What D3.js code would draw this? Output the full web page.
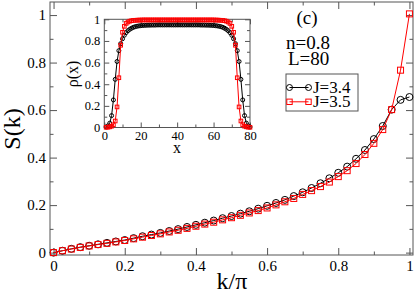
<!DOCTYPE html>
<html>
<head>
<meta charset="utf-8">
<script src="https://cdn.jsdelivr.net/npm/d3@7"></script>
<style>
  body { margin: 0; background: #fff; }
  svg text { font-family: "Liberation Serif", "Times New Roman", serif; }
</style>
</head>
<body>
<div id="plot"></div>
<script>
// main panel: S(k) vs k/pi, k/pi = m/40, m = 0..40
const kOverPi = d3.range(41).map(m => m / 40);
const sJ34 = [0, 0.008, 0.016, 0.023, 0.029, 0.035, 0.041, 0.047, 0.053, 0.061,
  0.069, 0.076, 0.083, 0.091, 0.099, 0.108, 0.117, 0.126, 0.135, 0.145,
  0.154, 0.164, 0.174, 0.185, 0.197, 0.209, 0.222, 0.238, 0.254, 0.272,
  0.292, 0.313, 0.336, 0.362, 0.395, 0.432, 0.478, 0.533, 0.602, 0.643, 0.655];
const sJ35 = [0, 0.008, 0.015, 0.022, 0.028, 0.034, 0.039, 0.045, 0.051, 0.058,
  0.065, 0.072, 0.079, 0.087, 0.094, 0.102, 0.111, 0.120, 0.128, 0.138,
  0.147, 0.157, 0.167, 0.177, 0.188, 0.201, 0.214, 0.228, 0.245, 0.261,
  0.278, 0.297, 0.320, 0.345, 0.375, 0.413, 0.460, 0.518, 0.602, 0.768, 1.005];

// inset: density profile rho(x), x = 1..80
const sites = d3.range(1, 81);
const rhoJ34 = [0.005, 0.015, 0.04, 0.11, 0.255, 0.445, 0.61, 0.71, 0.775, 0.82,
  0.853, 0.877, 0.895, 0.908, 0.918, 0.926, 0.932, 0.936, 0.939, 0.941,
  0.943, 0.944, 0.945, 0.946, 0.946, 0.947, 0.947, 0.947, 0.948, 0.948,
  0.948, 0.948, 0.948, 0.948, 0.948, 0.948, 0.948, 0.948, 0.948, 0.948,
  0.948, 0.948, 0.948, 0.948, 0.948, 0.948, 0.948, 0.948, 0.948, 0.948,
  0.948, 0.948, 0.947, 0.947, 0.947, 0.946, 0.946, 0.945, 0.944, 0.943,
  0.941, 0.939, 0.936, 0.932, 0.926, 0.918, 0.908, 0.895, 0.877, 0.853,
  0.82, 0.775, 0.71, 0.61, 0.445, 0.255, 0.11, 0.04, 0.015, 0.005];
const rhoJ35 = [0.002, 0.003, 0.006, 0.012, 0.025, 0.06, 0.19, 0.46, 0.76, 0.88,
  0.935, 0.962, 0.975, 0.983, 0.987, 0.99, 0.991, 0.992, 0.993, 0.993,
  0.994, 0.994, 0.994, 0.994, 0.994, 0.994, 0.994, 0.994, 0.994, 0.994,
  0.994, 0.994, 0.994, 0.994, 0.994, 0.994, 0.994, 0.994, 0.994, 0.994,
  0.994, 0.994, 0.994, 0.994, 0.994, 0.994, 0.994, 0.994, 0.994, 0.994,
  0.994, 0.994, 0.994, 0.994, 0.994, 0.994, 0.994, 0.994, 0.994, 0.994,
  0.993, 0.993, 0.992, 0.991, 0.99, 0.987, 0.983, 0.975, 0.962, 0.935,
  0.88, 0.76, 0.46, 0.19, 0.06, 0.025, 0.012, 0.006, 0.003, 0.002];

const mainXTicks = [0, 0.2, 0.4, 0.6, 0.8, 1];
const mainXMinor = [0.1, 0.3, 0.5, 0.7, 0.9];
const mainYTicks = [0, 0.2, 0.4, 0.6, 0.8, 1];
const mainYMinor = [0.1, 0.3, 0.5, 0.7, 0.9];
const insetXTicks = [0, 20, 40, 60, 80];
const insetXMinor = [10, 30, 50, 70];
const insetYTicks = [0, 0.2, 0.4, 0.6, 0.8, 1];
const insetYMinor = [0.1, 0.3, 0.5, 0.7, 0.9];
const legendLabels = ["J=3.4", "J=3.5"];

const w = 415;
const h = 293;
const axisColor = "#555";

const svg = d3.select("#plot")
  .append("svg")
  .attr("width", w)
  .attr("height", h);

const fmt = d => d === 0 || d === 1 ? String(d) : d3.format(".1f")(d);
const fmtInt = d3.format("d");

// framed box with inward ticks on all four sides, labels on bottom/left
function drawFrame(x, y, opt) {
  const [x0, x1] = x.range();
  const [y0, y1] = y.range();
  const g = svg.append("g");
  g.append("rect")
    .attr("x", x0).attr("y", y1)
    .attr("width", x1 - x0).attr("height", y0 - y1)
    .attr("fill", opt.fill || "none")
    .attr("stroke", axisColor);

  const axes = [
    [d3.axisBottom(x), true, "translate(0," + y0 + ")", opt.xMajor, opt.xMinor, opt.xFormat],
    [d3.axisTop(x), false, "translate(0," + y1 + ")", opt.xMajor, opt.xMinor, opt.xFormat],
    [d3.axisLeft(y), true, "translate(" + x0 + ",0)", opt.yMajor, opt.yMinor, opt.yFormat],
    [d3.axisRight(y), false, "translate(" + x1 + ",0)", opt.yMajor, opt.yMinor, opt.yFormat]
  ];
  axes.forEach(([ax, labels, tr, major, minor, format], i) => {
    const isX = i < 2;
    const gm = g.append("g")
      .attr("transform", tr)
      .call(ax.tickValues(major).tickSize(-opt.major)
        .tickPadding(isX ? opt.xPad : opt.yPad)
        .tickFormat(labels ? format : ""));
    gm.attr("font-size", opt.fontSize);
    gm.select(".domain").remove();
    gm.selectAll("line").attr("stroke", axisColor);
    gm.selectAll("text").attr("fill", "#000");
    const gn = g.append("g")
      .attr("transform", tr)
      .call(ax.tickValues(minor).tickSize(-opt.minor).tickFormat(""));
    gn.select(".domain").remove();
    gn.selectAll("line").attr("stroke", axisColor);
  });
  return g;
}

function drawSeries(g, x, y, xs, ys, color, shape, r) {
  g.append("path")
    .datum(xs.map((d, i) => [d, ys[i]]))
    .attr("fill", "none")
    .attr("stroke", color)
    .attr("stroke-width", 1)
    .attr("d", d3.line().x(d => x(d[0])).y(d => y(d[1])));
  const pts = xs.map((d, i) => [x(d), y(ys[i])]);
  drawMarkers(g, pts, color, shape, r);
}

function drawMarkers(g, pts, color, shape, r) {
  if (shape === "circle") {
    g.selectAll(null).data(pts).enter().append("circle")
      .attr("cx", d => d[0]).attr("cy", d => d[1]).attr("r", r)
      .attr("fill", "none").attr("stroke", color).attr("stroke-width", 1);
  } else {
    g.selectAll(null).data(pts).enter().append("rect")
      .attr("x", d => d[0] - r).attr("y", d => d[1] - r)
      .attr("width", 2 * r).attr("height", 2 * r)
      .attr("fill", "none").attr("stroke", color).attr("stroke-width", 1);
  }
}

//------------------- main panel -------------------
const x = d3.scaleLinear().domain([-0.01, 1.01]).range([50, 413]);
const y = d3.scaleLinear().domain([-0.01, 1.055]).range([255, 2]);

drawFrame(x, y, {
  xMajor: mainXTicks, xMinor: mainXMinor,
  yMajor: mainYTicks, yMinor: mainYMinor,
  major: 7, minor: 3.5, xPad: 5, yPad: 4,
  fontSize: 15, xFormat: fmt, yFormat: fmt
});

const mainG = svg.append("g");
drawSeries(mainG, x, y, kOverPi, sJ34, "#000", "circle", 3.5);
drawSeries(mainG, x, y, kOverPi, sJ35, "#f00", "square", 3);

svg.append("text")
  .attr("transform", "translate(20,129) rotate(-90)")
  .attr("text-anchor", "middle")
  .attr("font-size", 24)
  .text("S(k)");
svg.append("text")
  .attr("x", 232).attr("y", 289)
  .attr("text-anchor", "middle")
  .attr("font-size", 24)
  .text("k/π");

//------------------- inset -------------------
const xi = d3.scaleLinear().domain([0, 80]).range([104.3, 250]);
const yi = d3.scaleLinear().domain([0, 1]).range([127.5, 19.3]);

drawFrame(xi, yi, {
  xMajor: insetXTicks, xMinor: insetXMinor,
  yMajor: insetYTicks, yMinor: insetYMinor,
  major: 5, minor: 3, xPad: 4, yPad: 4,
  fontSize: 12.5, xFormat: fmtInt, yFormat: fmt, fill: "#fff"
});

const insetG = svg.append("g");
drawSeries(insetG, xi, yi, sites, rhoJ34, "#000", "circle", 2);
drawSeries(insetG, xi, yi, sites, rhoJ35, "#f00", "square", 1.8);

svg.append("text")
  .attr("transform", "translate(78,74) rotate(-90)")
  .attr("text-anchor", "middle")
  .attr("font-size", 16)
  .text("ρ(x)");
svg.append("text")
  .attr("x", 177).attr("y", 153)
  .attr("text-anchor", "middle")
  .attr("font-size", 16)
  .text("x");

//------------------- annotations + legend -------------------
svg.append("text").attr("x", 307).attr("y", 24)
  .attr("text-anchor", "middle").attr("font-size", 19).text("(c)");
svg.append("text").attr("x", 286).attr("y", 48.5)
  .attr("font-size", 19).text("n=0.8");
svg.append("text").attr("x", 288).attr("y", 65)
  .attr("font-size", 19).text("L=80");

const legend = svg.append("g");
legend.append("rect")
  .attr("x", 286).attr("y", 74).attr("width", 72).attr("height", 37)
  .attr("fill", "#fff").attr("stroke", axisColor);
const legendColors = ["#000", "#f00"];
const legendShapes = ["circle", "square"];
legendLabels.forEach((lab, i) => {
  const ly = 87.5 + i * 14.3;
  legend.append("line")
    .attr("x1", 289.5).attr("x2", 308.5).attr("y1", ly).attr("y2", ly)
    .attr("stroke", legendColors[i]);
  drawMarkers(legend, [[289.5, ly], [308.5, ly]], legendColors[i], legendShapes[i],
    legendShapes[i] === "circle" ? 3 : 2.7);
  legend.append("text")
    .attr("x", 313).attr("y", ly + 5.5)
    .attr("font-size", 17)
    .text(lab);
});
</script>
</body>
</html>
